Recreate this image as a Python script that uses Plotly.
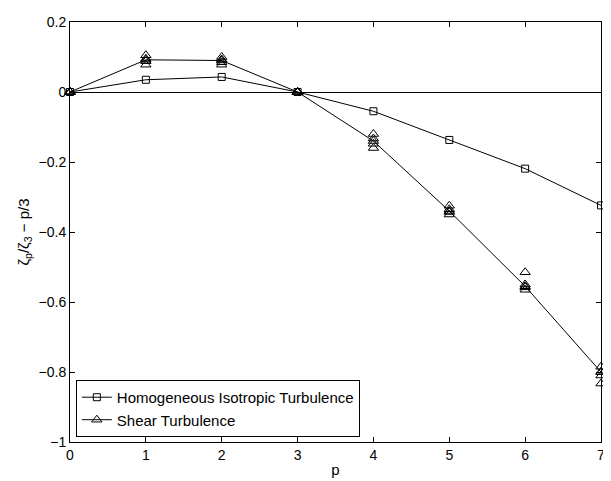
import plotly.graph_objects as go

p = [0, 1, 2, 3, 4, 5, 6, 7]

homogeneous = [0, 0.035, 0.043, 0, -0.055, -0.137, -0.219, -0.324]

shear_mean = [0, 0.092, 0.090, 0, -0.140, -0.340, -0.555, -0.800]
shear_run1 = [0, 0.105, 0.100, 0, -0.120, -0.325, -0.515, -0.785]
shear_run2 = [0, 0.095, 0.093, 0, -0.133, -0.335, -0.550, -0.800]
shear_run3 = [0, 0.088, 0.085, 0, -0.148, -0.343, -0.558, -0.810]
shear_run4 = [0, 0.078, 0.078, 0, -0.160, -0.350, -0.565, -0.833]

x_ticks = [0, 1, 2, 3, 4, 5, 6, 7]
y_ticks = [-1, -0.8, -0.6, -0.4, -0.2, 0, 0.2]
y_tick_labels = ["\u22121", "\u22120.8", "\u22120.6", "\u22120.4", "\u22120.2", "0", "0.2"]

FONT = "Liberation Sans, Arial, sans-serif"

fig = go.Figure()

for run in [shear_run1, shear_run2, shear_run3, shear_run4]:
    fig.add_trace(go.Scatter(
        x=p, y=run, mode="markers", showlegend=False, cliponaxis=False,
        marker=dict(symbol="triangle-up-open", size=9, color="black", line=dict(width=1)),
    ))

fig.add_trace(go.Scatter(
    x=p, y=homogeneous, mode="lines+markers", name="Homogeneous Isotropic Turbulence",
    cliponaxis=False,
    line=dict(color="black", width=1),
    marker=dict(symbol="square-open", size=7, color="black", line=dict(width=1)),
))
fig.add_trace(go.Scatter(
    x=p, y=shear_mean, mode="lines+markers", name="Shear Turbulence",
    cliponaxis=False,
    line=dict(color="black", width=1),
    marker=dict(symbol="triangle-up-open", size=9, color="black", line=dict(width=1)),
))

axis_common = dict(
    showline=True, linecolor="black", linewidth=1, mirror="ticks",
    ticks="inside", ticklen=5, tickcolor="black", showgrid=False,
    ticklabeloverflow="allow",
    tickfont=dict(family=FONT, size=14, color="black"),
)

fig.update_layout(
    width=603, height=473,
    margin=dict(l=62, r=6, t=12, b=39),
    paper_bgcolor="white", plot_bgcolor="white",
    font=dict(family=FONT, size=14, color="black"),
    xaxis=dict(range=[0, 7], tickvals=x_ticks, zeroline=False,
               title=dict(text="p", standoff=2, font=dict(size=15)), **axis_common),
    yaxis=dict(range=[-1, 0.2], tickvals=y_ticks, ticktext=y_tick_labels,
               zeroline=True, zerolinecolor="black", zerolinewidth=1,
               title=dict(text="\u03b6<sub>p</sub>/\u03b6<sub>3</sub> \u2212 p/3", standoff=5,
                          font=dict(size=15)),
               **axis_common),
    legend=dict(x=0.011, y=0.012, xanchor="left", yanchor="bottom",
                bordercolor="black", borderwidth=1, bgcolor="white",
                font=dict(size=15), tracegroupgap=0, itemwidth=30),
    showlegend=True,
)

fig.write_html("out.html")
